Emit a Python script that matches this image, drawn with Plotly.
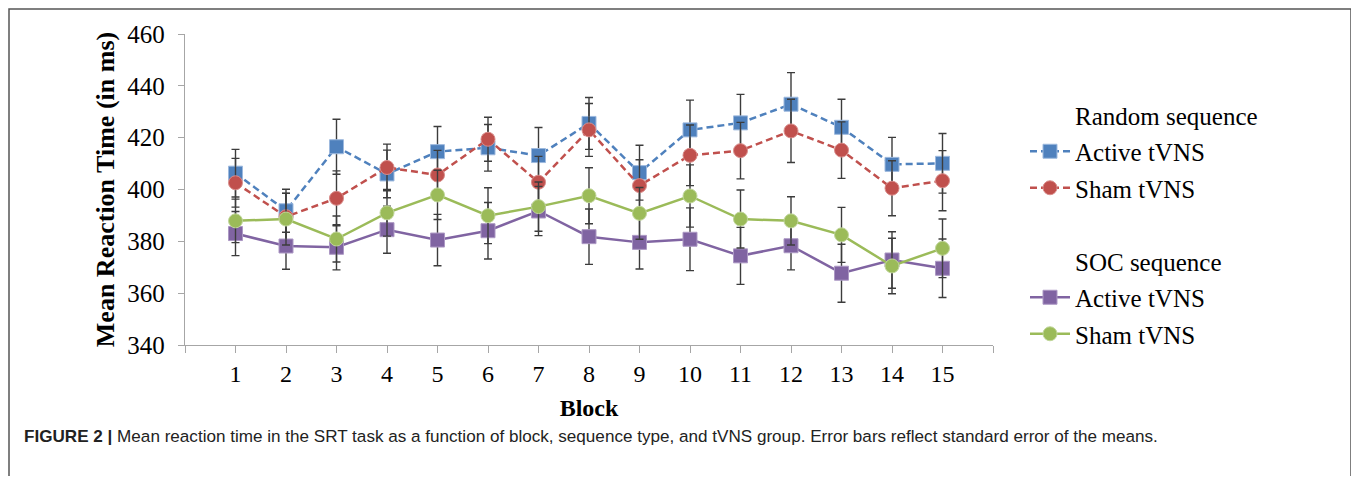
import plotly.graph_objects as go

# ---------------- data ----------------
blocks = list(range(1, 16))
tick_labels = [str(b) for b in blocks]

random_active = [406.3, 391.8, 416.5, 406.0, 414.6, 416.1, 413.1, 425.5, 406.5, 423.0, 425.7, 432.9, 424.0, 409.7, 410.1]
random_active_se = [9.2, 8.3, 10.6, 9.2, 9.7, 9.0, 10.8, 10.0, 10.6, 11.5, 11.0, 12.2, 10.8, 10.4, 11.5]

random_sham = [402.6, 389.5, 396.6, 408.5, 405.6, 419.4, 402.8, 423.0, 401.5, 413.2, 415.0, 422.6, 415.2, 400.5, 403.4]
random_sham_se = [9.4, 9.0, 10.6, 9.0, 9.5, 8.5, 10.0, 10.2, 10.0, 11.7, 10.9, 12.2, 10.9, 10.6, 11.6]

soc_active = [383.0, 378.2, 377.7, 384.5, 380.5, 384.1, 391.7, 381.8, 379.6, 380.8, 374.4, 378.3, 367.7, 372.8, 369.6]
soc_active_se = [8.5, 9.0, 8.7, 9.1, 9.9, 10.9, 9.5, 10.7, 10.3, 12.1, 11.0, 9.3, 11.2, 10.9, 11.3]

soc_sham = [387.9, 388.6, 380.9, 391.0, 397.9, 389.9, 393.4, 397.6, 390.8, 397.5, 388.6, 387.9, 382.5, 370.5, 377.3]
soc_sham_se = [8.4, 10.0, 8.9, 9.0, 9.5, 10.8, 9.5, 10.8, 10.0, 12.0, 11.2, 9.3, 10.6, 10.7, 11.3]

y_ticks = [340, 360, 380, 400, 420, 440, 460]

caption_bold = "FIGURE 2 |"
caption_text = ("Mean reaction time in the SRT task as a function of block, sequence type, "
                "and tVNS group. Error bars reflect standard error of the means.")

# ---------------- layout constants ----------------
OFF = 8  # page body margin
W, H = 1359 - 2 * OFF, 484 - 2 * OFF
L, T = 185 - OFF, 34 - OFF
R = W - (993 - OFF)
B = H - (345 - OFF)
PW, PH = W - L - R, H - T - B

def px(x):
    return (x - OFF - L) / PW

def py(y):
    return 1 - (y - OFF - T) / PH

SERIF = "Liberation Serif, Times New Roman, serif"
SANS = "Liberation Sans, Arial, sans-serif"
ERR = dict(type="data", thickness=1.4, width=4, color="#3c3c3c", visible=True)

fig = go.Figure()

def header(name, group):
    fig.add_trace(go.Scatter(x=[None], y=[None], mode="lines", name=name,
                             line=dict(color="rgba(0,0,0,0)", width=0),
                             legendgroup=group, hoverinfo="skip"))

def series(name, vals, se, color, edge, symbol, size, dash, group):
    fig.add_trace(go.Scatter(
        x=blocks, y=vals, name=name, mode="lines+markers",
        line=dict(color=color, width=2.5, dash=dash),
        marker=dict(symbol=symbol, size=size, color=color, line=dict(color=edge, width=1)),
        error_y=dict(array=se, **ERR),
        legendgroup=group,
    ))

header("Random sequence", "g0")
series("Active tVNS", random_active, random_active_se, "#4F81BD", "#9DB9DE", "square", 14, "7px,4px", "g1")
series("Sham tVNS", random_sham, random_sham_se, "#C0504D", "#D98C8A", "circle", 14, "7px,4px", "g2")
header(" ", "g3")
header("SOC sequence", "g4")
series("Active tVNS", soc_active, soc_active_se, "#8064A2", "#AC98C4", "square", 14, "solid", "g5")
series("Sham tVNS", soc_sham, soc_sham_se, "#9BBB59", "#C0D69A", "circle", 14, "solid", "g6")

fig.update_layout(
    width=W, height=H,
    margin=dict(l=L, r=R, t=T, b=B, autoexpand=False),
    paper_bgcolor="white", plot_bgcolor="white",
    font=dict(family=SERIF, size=24, color="black"),
    showlegend=True,
    legend=dict(x=px(1025), y=py(92), xanchor="left", yanchor="top",
                font=dict(family=SERIF, size=25, color="black"),
                traceorder="grouped", tracegroupgap=1,
                bgcolor="rgba(0,0,0,0)", itemwidth=40),
    xaxis=dict(range=[0, 16], tickmode="array", tickvals=list(range(0, 17)),
               ticktext=[""] + tick_labels + [""],
               showgrid=False, zeroline=False, showline=True, linecolor="#A6A6A6", linewidth=1.3,
               ticks="outside", ticklen=7, tickcolor="#A6A6A6", tickwidth=1.3,
               tickfont=dict(family=SERIF, size=24),
               title=dict(text="<b>Block</b>", font=dict(family=SERIF, size=24), standoff=13)),
    yaxis=dict(range=[340, 460], tickmode="array", tickvals=y_ticks,
               showgrid=False, zeroline=False, showline=True, linecolor="#A6A6A6", linewidth=1.3,
               ticks="outside", ticklen=6, tickcolor="#A6A6A6", tickwidth=1.3,
               ticklabelstandoff=8,
               tickfont=dict(family=SERIF, size=25),
               title=dict(text="<b>Mean Reaction Time (in ms)</b>", font=dict(family=SERIF, size=26),
                          standoff=5)),
    shapes=[dict(type="rect", xref="paper", yref="paper",
                 x0=px(OFF + 1), x1=px(1351), y0=py(OFF + 1), y1=py(600),
                 line=dict(color="#555555", width=1.5), fillcolor="rgba(0,0,0,0)")],
    annotations=[dict(xref="paper", yref="paper", x=px(22), y=py(436),
                      xanchor="left", yanchor="middle", showarrow=False,
                      text=f"<b>{caption_bold}</b> {caption_text}",
                      font=dict(family=SANS, size=17.1, color="#222222"))],
)

fig.write_html("out.html")
